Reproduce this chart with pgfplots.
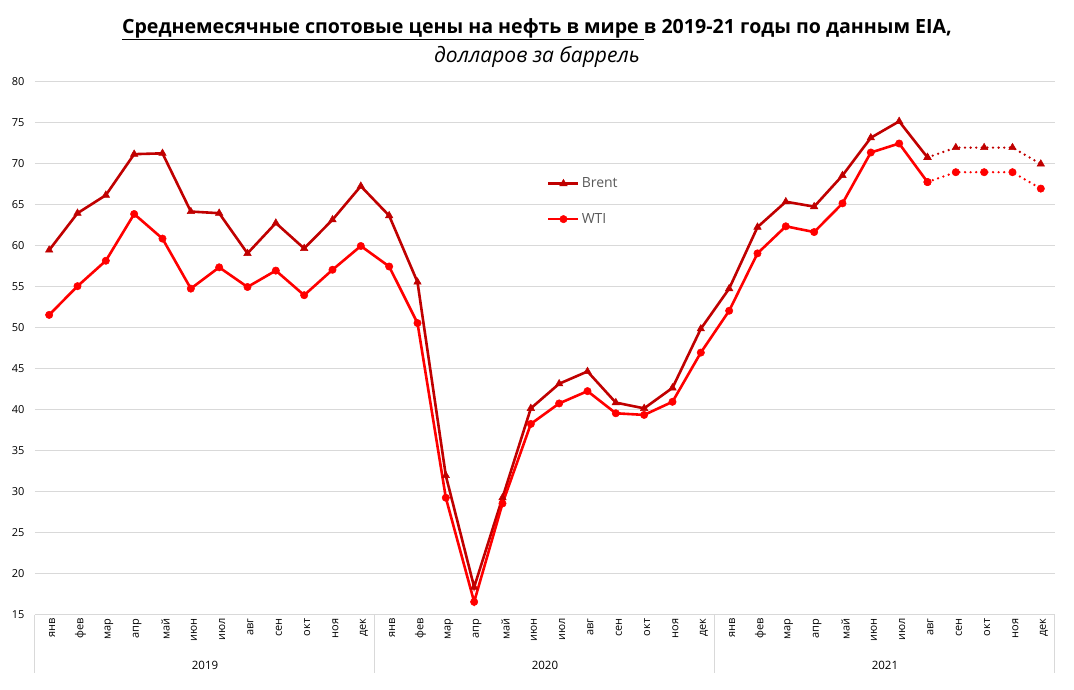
\documentclass[border=0pt]{standalone}
\usepackage{pgfplots}
\pgfplotsset{compat=1.18}
\usepackage{pgfplotstable}
\usepackage{fontspec}
\setmainfont{Open Sans}

\definecolor{brent}{RGB}{192,0,0}
\definecolor{wti}{RGB}{255,0,0}
\definecolor{gridgray}{RGB}{217,217,217}
\definecolor{labgray}{RGB}{89,89,89}

% monthly averages, index 0 = Jan 2019
\pgfplotstableread{
x brent wti
0 59.5 51.6
1 64.0 55.1
2 66.2 58.2
3 71.2 63.9
4 71.3 60.9
5 64.2 54.8
6 64.0 57.4
7 59.1 55.0
8 62.8 57.0
9 59.7 54.0
10 63.2 57.1
11 67.3 60.0
12 63.7 57.5
13 55.6 50.6
14 32.0 29.3
15 18.4 16.6
16 29.3 28.6
17 40.2 38.3
18 43.2 40.8
19 44.7 42.3
20 40.9 39.6
21 40.2 39.4
22 42.7 41.0
23 49.9 47.0
24 54.8 52.1
25 62.3 59.1
26 65.4 62.4
27 64.8 61.7
28 68.6 65.2
29 73.2 71.4
30 75.2 72.5
31 70.8 67.8
}\oil

% forecast part
\pgfplotstableread{
x brent wti
31 70.8 67.8
32 72.0 69.0
33 72.0 69.0
34 72.0 69.0
35 70.0 67.0
}\fc

\begin{document}
\begin{tikzpicture}
\useasboundingbox (0,0) rectangle (1074pt,690pt);

\node[font=\fontsize{19.6}{22}\selectfont\bfseries] at (537pt,661pt)
  {\underline{Среднемесячные спотовые цены на нефть в мире\ }в 2019-21 годы по данным EIA,};
\node[font=\fontsize{21}{24}\selectfont\itshape] at (537pt,633pt) {долларов за баррель};

\begin{axis}[
    at={(35pt,75pt)}, anchor=south west,
    scale only axis,
    width=1020pt, height=533pt,
    xmin=-0.5, xmax=35.5,
    ymin=15, ymax=80,
    ytick={15,20,...,80},
    xtick={0,...,35},
    xticklabels={янв,фев,мар,апр,май,июн,июл,авг,сен,окт,ноя,дек,
                 янв,фев,мар,апр,май,июн,июл,авг,сен,окт,ноя,дек,
                 янв,фев,мар,апр,май,июн,июл,авг,сен,окт,ноя,дек},
    major tick length=0pt,
    axis line style={draw=none},
    ymajorgrids=true,
    grid style={gridgray, line width=1pt},
    /pgf/number format/assume math mode=true,
    yticklabel style={font=\fontsize{11}{13}\selectfont, xshift=-7pt},
    xticklabel style={font=\fontsize{11}{13}\selectfont, rotate=90, anchor=east, yshift=-3pt},
    clip=false,
    legend cell align=left,
    legend style={at={(0.499,0.776)}, anchor=west, draw=none, fill=none,
                  font=\fontsize{14}{16}\selectfont, text=labgray, row sep=20pt},
    legend image code/.code={
        \draw[#1, mark repeat=2, mark phase=2] plot coordinates {(0pt,0pt) (15pt,0pt) (30pt,0pt)};},
]

\addplot[color=brent, line width=2.6pt, mark=triangle*, mark size=4.3pt,
         mark options={solid, line width=0.5pt, fill=brent}]
    table[x=x, y=brent] {\oil};
\addlegendentry{Brent}
\addplot[color=wti, line width=2.6pt, mark=*, mark size=3.7pt,
         mark options={solid, line width=0.5pt, fill=wti}]
    table[x=x, y=wti] {\oil};
\addlegendentry{WTI}

\addplot[forget plot, color=brent, line width=2.6pt, line cap=round,
         dash pattern=on 0pt off 5.6pt, mark=triangle*, mark size=4.3pt,
         mark options={solid, line width=0.5pt, fill=brent}]
    table[x=x, y=brent] {\fc};
\addplot[forget plot, color=wti, line width=2.6pt, line cap=round,
         dash pattern=on 0pt off 5.6pt, mark=*, mark size=3.7pt,
         mark options={solid, line width=0.5pt, fill=wti}]
    table[x=x, y=wti] {\fc};

% year groups under the month labels
\draw[gridgray, line width=1pt] (axis cs:-0.5,15) -- ++(0pt,-58pt);
\draw[gridgray, line width=1pt] (axis cs:11.5,15) -- ++(0pt,-58pt);
\draw[gridgray, line width=1pt] (axis cs:23.5,15) -- ++(0pt,-58pt);
\draw[gridgray, line width=1pt] (axis cs:35.5,15) -- ++(0pt,-58pt);
\node[font=\fontsize{11.5}{13}\selectfont] at ([yshift=-50pt]axis cs:5.5,15) {2019};
\node[font=\fontsize{11.5}{13}\selectfont] at ([yshift=-50pt]axis cs:17.5,15) {2020};
\node[font=\fontsize{11.5}{13}\selectfont] at ([yshift=-50pt]axis cs:29.5,15) {2021};
\end{axis}
\end{tikzpicture}
\end{document}
